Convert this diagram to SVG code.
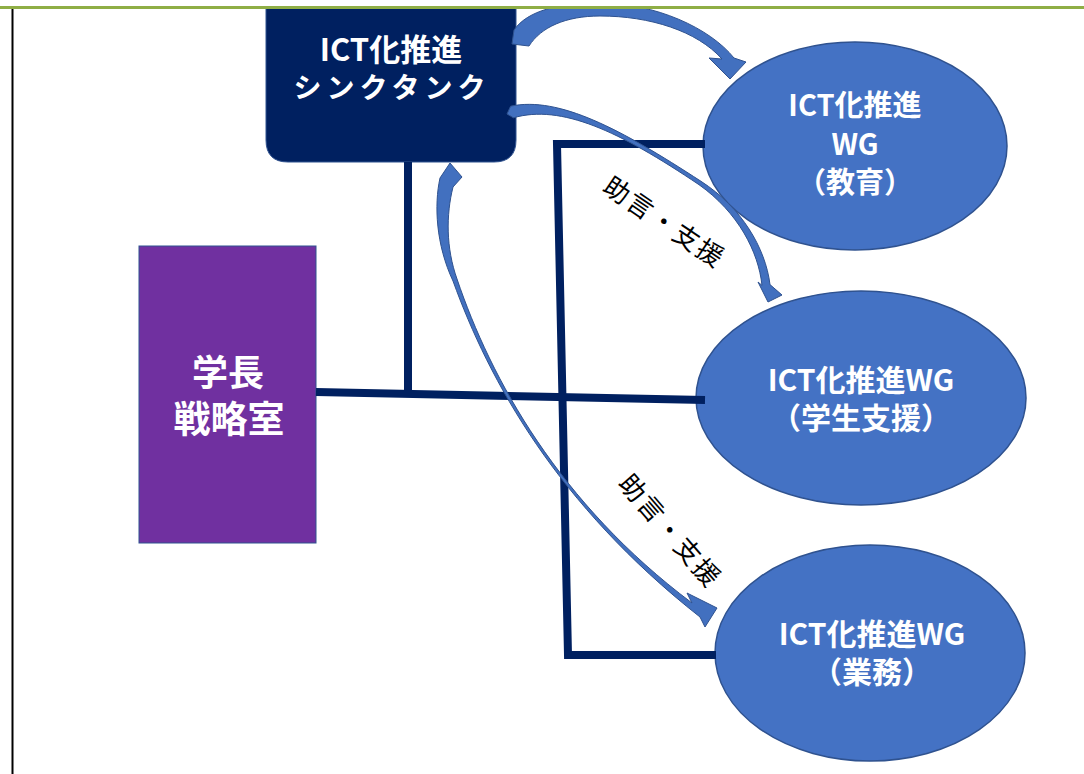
<svg xmlns="http://www.w3.org/2000/svg" width="1084" height="774" viewBox="0 0 1084 774">
<style>
.wg{fill:#4472C4;stroke:#2F528F;stroke-width:1.5}
.nt{fill:#FFFFFF;font-family:"Noto Sans CJK JP","Noto Sans",sans-serif;font-weight:bold;text-anchor:middle}
.ln{stroke:#002060;stroke-width:8;fill:none;stroke-linecap:butt}
.arr{fill:#4270BF;stroke:#2F528F;stroke-width:1;stroke-linejoin:miter}
.lbl{fill:#000000;font-family:"Noto Sans CJK JP","Noto Sans",sans-serif;font-size:26px;letter-spacing:2px;text-anchor:middle}
</style>
<rect x="0" y="0" width="1084" height="774" fill="#FFFFFF"/>
<g id="wg-education">
<ellipse class="wg" cx="855" cy="146" rx="152" ry="104"/>
<text class="nt" x="855" y="116" font-size="29">ICT化推進</text>
<text class="nt" x="855" y="155" font-size="29">WG</text>
<text class="nt" x="855" y="193" font-size="29">（教育）</text>
</g>
<g id="wg-student">
<ellipse class="wg" cx="861" cy="398" rx="165" ry="107"/>
<text class="nt" x="861" y="391" font-size="30">ICT化推進WG</text>
<text class="nt" x="861" y="429" font-size="30">（学生支援）</text>
</g>
<g id="wg-business">
<ellipse class="wg" cx="870" cy="653" rx="155" ry="108"/>
<text class="nt" x="872" y="645" font-size="30">ICT化推進WG</text>
<text class="nt" x="872" y="683" font-size="30">（業務）</text>
</g>
<g id="strategy-office">
<rect x="139" y="246" width="177" height="297" fill="#7030A0" stroke="#2F528F" stroke-width="1"/>
<text class="nt" x="228" y="386" font-size="36">学長</text>
<text class="nt" x="229" y="433" font-size="37">戦略室</text>
</g>
<g id="thinktank">
<path d="M 266,0 L 516,0 L 516,140 Q 516,162 494,162 L 288,162 Q 266,162 266,140 Z" fill="#002060" stroke="#2F528F" stroke-width="1"/>
<text class="nt" x="391" y="61" font-size="31">ICT化推進</text>
<text class="nt" x="392" y="98" font-size="28" letter-spacing="5">シンクタンク</text>
</g>
<g id="connectors">
<line class="ln" x1="408" y1="162" x2="408" y2="396"/>
<line class="ln" x1="316" y1="392" x2="705" y2="400"/>
<polyline class="ln" points="705,144 557,144 568,655 716,655"/>
<path class="arr" d="M 512,44 L 514,30 C 528,10 560,3 600,3 C 655,3 710,28 734,58 L 746,62 L 730,79 L 709,58 L 722,59 C 697,31 650,16 600,16 C 566,16 541,27 529,46 Z"/>
<path class="arr" d="M 507,114 L 510.6,106.2 C 559,96 620.7,129 701,181.3 C 741.7,207.5 765.5,248 770,284.6 L 782,295 L 768,302 L 758,282 L 762,285.4 C 758.5,252 738.3,212.5 699,184.7 C 619.3,131 561,104 513.4,117.8 Z"/>
<path class="arr" d="M 450,163 L 440,178 C 434,205 436,245 453,281 C 489,380.7 557,504.7 700,617 L 705,627 L 717,608 L 687,593 L 692,603 C 559,503.3 491,379.3 457,279 C 446,248 446,215 453,187 L 462,177 Z"/>
</g>
<g id="labels">
<text class="lbl" transform="translate(659,230) rotate(34)">助言・支援</text>
<text class="lbl" transform="translate(663,537) rotate(49)">助言・支援</text>
</g>
<rect x="0" y="0" width="1084" height="6" fill="#FFFFFF"/>
<line x1="0" y1="7.5" x2="1084" y2="7.5" stroke="#8FAE45" stroke-width="3"/>
<line x1="12.5" y1="9" x2="12.5" y2="774" stroke="#000000" stroke-width="2"/>
</svg>
